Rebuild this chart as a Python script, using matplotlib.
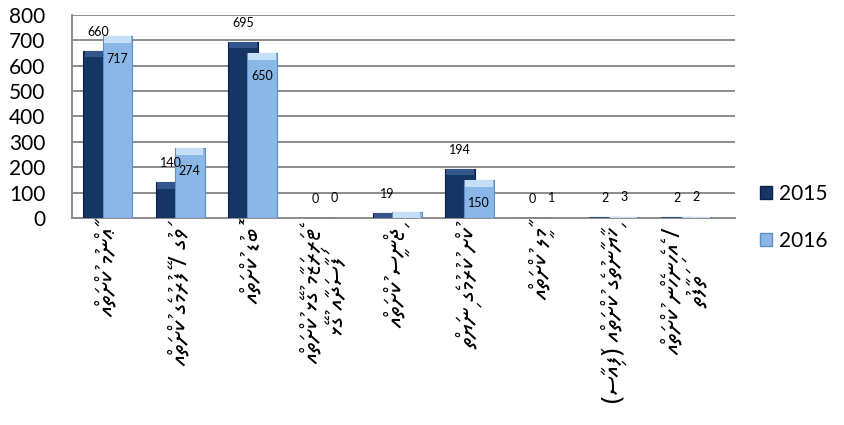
import matplotlib
matplotlib.use("Agg")
import matplotlib.pyplot as plt
from matplotlib.patches import Patch
import numpy as np

# ---------------- data ----------------
categories = [
    "ޢާންމު ކުށްތައް",
    "ވަގު / ފޭރުމުގެ ކުށްތައް",
    "ބޮޑު ކުށްތައް",
    "ޓެރަރިޒަމާ ގުޅޭ ކުށްތައް\nފަސާދައާ ގުޅޭ",
    "ޖިންސީ ކުށްތައް",
    "ކުށް ކުރުމުގެ ނިޔަތް",
    "މާލީ ކުށްތައް",
    "ޚިޔާނާތުގެ ކުށްތައް (ފައިސާ)",
    "/ އެހެނިހެން ކުށްތައް\nތަފާތު",
]
series_names = ["2015", "2016"]
values_2015 = [660, 140, 695, 0, 19, 194, 0, 2, 2]
values_2016 = [717, 274, 650, 0, 25, 150, 1, 3, 2]
show_2016_label = [True, True, True, True, False, True, True, True, True]
y_ticks = [0, 100, 200, 300, 400, 500, 600, 700, 800]

# ---------------- helpers ----------------
MIRROR = {"(": ")", ")": "("}

def visual(line):
    """Reorder a right-to-left Thaana line into visual (left-to-right) order."""
    clusters = []
    for ch in line:
        if 0x07A6 <= ord(ch) <= 0x07B0 and clusters:
            clusters[-1] += ch
        else:
            clusters.append(MIRROR.get(ch, ch))
    return "".join(reversed(clusters))

def visual_label(text):
    return "\n".join(visual(l) for l in text.split("\n"))

# ---------------- figure ----------------
W, H = 845, 425
fig = plt.figure(figsize=(W / 100, H / 100), dpi=100)
ax_left, ax_right, ax_top, ax_bottom = 72, 735, 15, 218
ax = fig.add_axes([ax_left / W, 1 - ax_bottom / H,
                   (ax_right - ax_left) / W, (ax_bottom - ax_top) / H])

x = np.arange(len(categories))
off = 0.133
bw = 0.41

c15_face, c15_edge, c15_top = "#153565", "#0b2045", "#33568c"
c16_face, c16_edge, c16_top = "#8ab7e6", "#5f8fc4", "#c4e0f8"

ax.bar(x - off, values_2015, width=bw, color=c15_face, edgecolor=c15_edge,
       linewidth=0.8, zorder=3)
bev15 = [min(v, 26) for v in values_2015]
ax.bar(x - off, bev15, width=bw * 0.92,
       bottom=[v - b for v, b in zip(values_2015, bev15)],
       color=c15_top, linewidth=0, zorder=3.1)

ax.bar(x + off, values_2016, width=bw, color=c16_face, edgecolor=c16_edge,
       linewidth=0.8, zorder=4)
bev16 = [min(v, 26) for v in values_2016]
ax.bar(x + off, bev16, width=bw * 0.92,
       bottom=[v - b for v, b in zip(values_2016, bev16)],
       color=c16_top, linewidth=0, zorder=4.1)

label_font = {"family": ["Lato", "DejaVu Sans"], "size": 9, "color": "black"}
for xi, v in zip(x, values_2015):
    ax.annotate(str(v), (xi - off, v), xytext=(0, 19), textcoords="offset pixels",
                ha="center", va="center", zorder=6, **label_font)
for xi, v, show in zip(x, values_2016, show_2016_label):
    if not show:
        continue
    dy = -23 if v > 60 else 20
    ax.annotate(str(v), (xi + off, v), xytext=(0, dy), textcoords="offset pixels",
                ha="center", va="center", zorder=6, **label_font)

ax.set_xlim(-0.495, 8.67)
ax.set_ylim(0, 800)
ax.set_yticks(y_ticks)
ax.set_yticklabels([str(t) for t in y_ticks], fontsize=15,
                   fontfamily=["Lato", "DejaVu Sans"])
ax.tick_params(axis="y", length=0, pad=19)
ax.grid(axis="y", color="#8c8c8c", linewidth=1.4, zorder=0)
ax.set_axisbelow(True)

ax.set_xticks(x)
ax.set_xticklabels([visual_label(c) for c in categories], rotation=90,
                   fontsize=18, fontfamily=["Noto Sans Thaana", "DejaVu Sans"],
                   ha="center", va="top", multialignment="center",
                   linespacing=0.95)
ax.tick_params(axis="x", length=0, pad=7)

for s in ["top", "right"]:
    ax.spines[s].set_visible(False)
ax.spines["left"].set_color("#8c8c8c")
ax.spines["left"].set_linewidth(1.4)
ax.spines["bottom"].set_color("#8c8c8c")
ax.spines["bottom"].set_linewidth(1.4)

handles = [Patch(facecolor=c15_face, edgecolor=c15_edge),
           Patch(facecolor=c16_face, edgecolor=c16_edge)]
fig.legend(handles, series_names, loc="upper left",
           bbox_to_anchor=(760 / W, 1 - 184 / H), frameon=False,
           prop={"family": ["Lato", "DejaVu Sans"], "size": 15},
           handlelength=0.6, handleheight=0.6, handletextpad=0.3,
           labelspacing=1.3, borderpad=0, borderaxespad=0)

fig.savefig("out.png", dpi=100)
